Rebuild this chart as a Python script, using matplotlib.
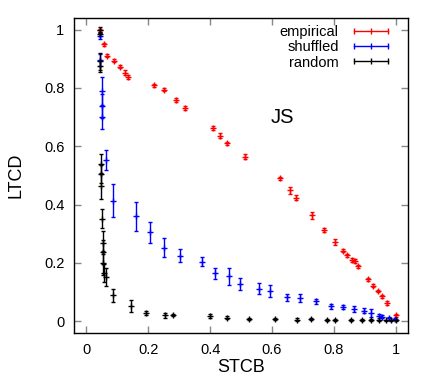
import numpy as np
import matplotlib.pyplot as plt
from matplotlib.lines import Line2D

plt.rcParams['font.family'] = ['Liberation Sans', 'DejaVu Sans']

# empirical: STCB, LTCD, error
emp_x = [0.045, 0.057, 0.068, 0.090, 0.110, 0.125, 0.135, 0.220, 0.251, 0.291, 0.319,
         0.408, 0.431, 0.455, 0.514, 0.625, 0.657, 0.679, 0.729, 0.768, 0.805, 0.830,
         0.842, 0.858, 0.867, 0.879, 0.912, 0.927, 0.943, 0.955, 0.972, 1.000]
emp_y = [0.998, 0.950, 0.911, 0.894, 0.873, 0.853, 0.837, 0.809, 0.794, 0.758, 0.730,
         0.662, 0.637, 0.610, 0.564, 0.490, 0.449, 0.424, 0.363, 0.312, 0.273, 0.242,
         0.226, 0.210, 0.206, 0.188, 0.144, 0.122, 0.104, 0.086, 0.062, 0.020]
emp_err = [0.005, 0.005, 0.005, 0.006, 0.006, 0.007, 0.007, 0.005, 0.006, 0.007, 0.007,
           0.006, 0.009, 0.006, 0.008, 0.005, 0.012, 0.008, 0.012, 0.007, 0.010, 0.006,
           0.006, 0.007, 0.006, 0.006, 0.005, 0.005, 0.005, 0.005, 0.006, 0.004]

# shuffled
shf_x = [0.045, 0.045, 0.050, 0.050, 0.050, 0.065, 0.086, 0.159, 0.206, 0.252, 0.303,
         0.375, 0.417, 0.460, 0.498, 0.558, 0.594, 0.649, 0.690, 0.742, 0.792, 0.830,
         0.864, 0.898, 0.920, 0.946, 0.957, 0.978, 0.997]
shf_y = [0.977, 0.895, 0.789, 0.738, 0.701, 0.554, 0.414, 0.360, 0.306, 0.252, 0.225,
         0.204, 0.164, 0.154, 0.128, 0.112, 0.104, 0.082, 0.080, 0.069, 0.051, 0.049,
         0.041, 0.037, 0.029, 0.018, 0.015, 0.011, 0.009]
shf_err = [0.010, 0.020, 0.050, 0.040, 0.040, 0.035, 0.057, 0.049, 0.036, 0.033, 0.022,
           0.015, 0.018, 0.029, 0.019, 0.020, 0.021, 0.013, 0.013, 0.008, 0.008, 0.007,
           0.010, 0.007, 0.013, 0.007, 0.005, 0.005, 0.004]

# random
rnd_x = [0.045, 0.045, 0.045, 0.045, 0.047, 0.047, 0.047, 0.051, 0.053, 0.054, 0.055,
         0.058, 0.065, 0.086, 0.143, 0.192, 0.253, 0.280, 0.399, 0.455, 0.525, 0.611,
         0.681, 0.727, 0.779, 0.805, 0.856, 0.891, 0.919, 0.945, 0.970, 0.984, 1.000]
rnd_y = [1.000, 0.985, 0.891, 0.874, 0.540, 0.505, 0.463, 0.352, 0.270, 0.238, 0.200,
         0.166, 0.151, 0.089, 0.052, 0.030, 0.021, 0.021, 0.017, 0.013, 0.008, 0.008,
         0.006, 0.009, 0.005, 0.005, 0.004, 0.005, 0.004, 0.003, 0.003, 0.003, 0.003]
rnd_err = [0.010, 0.008, 0.030, 0.020, 0.034, 0.030, 0.045, 0.032, 0.040, 0.040, 0.040,
           0.030, 0.031, 0.022, 0.020, 0.007, 0.008, 0.004, 0.007, 0.004, 0.004, 0.004,
           0.004, 0.004, 0.003, 0.003, 0.003, 0.003, 0.003, 0.003, 0.003, 0.003, 0.003]

series = [
    ('empirical', emp_x, emp_y, emp_err, '#ff0000'),
    ('shuffled', shf_x, shf_y, shf_err, '#0000ff'),
    ('random', rnd_x, rnd_y, rnd_err, '#000000'),
]

fig = plt.figure(figsize=(4.36, 3.82), dpi=100)
ax = fig.add_axes([0.1697, 0.1283, 0.7661, 0.8246])

handles = []
for name, x, y, e, c in series:
    ax.errorbar(x, y, yerr=e, fmt='+', color=c, ecolor=c, elinewidth=1.0,
                capsize=1.5, capthick=1.0, markersize=4, markeredgewidth=1.0)
    handles.append(Line2D([], [], color=c, lw=1.0, marker='|', markersize=5,
                          markeredgewidth=1.0, label=name))

ax.set_xlim(-0.04, 1.04)
ax.set_ylim(-0.04, 1.04)
ax.set_xticks([0, 0.2, 0.4, 0.6, 0.8, 1])
ax.set_xticklabels(['0', '0.2', '0.4', '0.6', '0.8', '1'])
ax.set_yticks([0, 0.2, 0.4, 0.6, 0.8, 1])
ax.set_yticklabels(['0', '0.2', '0.4', '0.6', '0.8', '1'])
ax.tick_params(direction='in', length=5, width=1, color='#888888', labelsize=10.5,
               top=True, right=True, pad=7)
for s in ax.spines.values():
    s.set_linewidth(1.0)

ax.set_xlabel('STCB', fontsize=13, labelpad=2)
ax.set_ylabel('LTCD', fontsize=13, labelpad=14)
ax.text(0.635, 0.70, 'JS', fontsize=14.5, ha='center', va='center')

ax.legend(handles=handles, loc='upper right', bbox_to_anchor=(0.952, 0.978),
          frameon=False, markerfirst=False, numpoints=3, handlelength=2.9,
          handletextpad=0.75, labelspacing=0.09, fontsize=10.5, borderpad=0,
          borderaxespad=0)

plt.savefig('out.png', dpi=100)
